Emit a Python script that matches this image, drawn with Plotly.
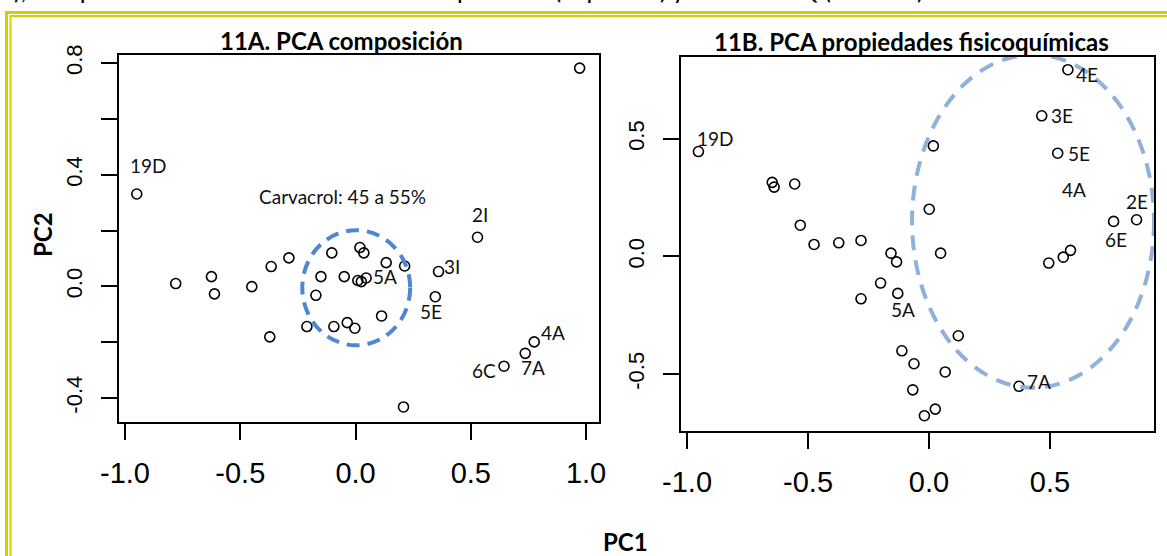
import plotly.graph_objects as go

W, H = 1167, 556

# ---------------- data: 11A PCA composición ----------------
a_pc1 = [-0.949, -0.780, -0.625, -0.612, -0.450, -0.366, -0.289, -0.372, -0.211, -0.150,
         -0.172, -0.103, -0.094, -0.049, -0.036, -0.003, 0.019, 0.036, 0.010, 0.025,
         0.046, 0.133, 0.113, 0.213, 0.360, 0.346, 0.529, 0.775, 0.736, 0.644,
         0.208, 0.972]
a_pc2 = [0.331, 0.010, 0.035, -0.027, -0.001, 0.071, 0.102, -0.181, -0.144, 0.035,
         -0.032, 0.120, -0.144, 0.035, -0.130, -0.150, 0.139, 0.120, 0.021, 0.017,
         0.030, 0.085, -0.106, 0.073, 0.053, -0.037, 0.176, -0.199, -0.240, -0.286,
         -0.432, 0.782]
a_lab = ["19D", "", "", "", "", "", "", "", "", "",
         "", "", "", "", "", "", "", "", "", "",
         "5A", "", "", "", "3I", "5E", "2I", "4A", "7A", "6C",
         "", ""]

# ---------------- data: 11B PCA propiedades fisicoquímicas ----------------
b_pc1 = [-0.953, -0.648, -0.640, -0.555, -0.532, -0.475, -0.373, -0.281, -0.157, -0.134,
         -0.200, -0.281, -0.129, 0.018, 0.001, 0.048, -0.112, -0.062, 0.067, -0.067,
         0.026, -0.019, 0.121, 0.574, 0.466, 0.532, 0.858, 0.763, 0.585, 0.555,
         0.495, 0.372]
b_pc2 = [0.446, 0.315, 0.295, 0.308, 0.133, 0.051, 0.058, 0.068, 0.014, -0.023,
         -0.113, -0.180, -0.157, 0.470, 0.201, 0.014, -0.401, -0.456, -0.491, -0.567,
         -0.649, -0.677, -0.337, 0.794, 0.598, 0.439, 0.156, 0.149, 0.026, -0.003,
         -0.028, -0.552]
b_lab = ["19D", "", "", "", "", "", "", "", "", "",
         "", "", "5A", "", "", "", "", "", "", "",
         "", "", "", "4E", "3E", "5E", "2E", "6E", "4A", "",
         "", "7A"]

# tick labels
a_xticks = [-1.0, -0.5, 0.0, 0.5, 1.0]
a_xtext = ["-1.0", "-0.5", "0.0", "0.5", "1.0"]
a_yticks = [-0.4, -0.2, 0.0, 0.2, 0.4, 0.6, 0.8]
a_ytext = ["-0.4", "", "0.0", "", "0.4", "", "0.8"]
b_xticks = [-1.0, -0.5, 0.0, 0.5]
b_xtext = ["-1.0", "-0.5", "0.0", "0.5"]
b_yticks = [-0.5, 0.0, 0.5]
b_ytext = ["-0.5", "0.0", "0.5"]

# highlighted regions (center x, center y, radius x, radius y) in PC units
a_region = (0.003, -0.005, 0.234, 0.206)
b_region = (0.43, 0.15, 0.50, 0.708)

# ---------------- layout (pixels) ----------------
A_BOX = (119, 599, 55, 422)   # left, right, top, bottom
B_BOX = (681, 1154, 57, 431)
A_XR = [-1.026, 1.056]
A_YR = [-0.486, 0.829]
B_XR = [-1.025, 0.930]
B_YR = [-0.742, 0.848]

# label offsets in pixels (dx, dy up)
a_off = {"19D": (12, 28), "5A": (19, 1), "3I": (13, 5), "5E": (-4, -15), "2I": (2, 23),
         "4A": (19, 9), "7A": (8, -14), "6C": (-20, -4)}
b_off = {"19D": (17, 13), "5A": (5, -16), "4E": (19, -5), "3E": (20, 0), "5E": (21, 0),
         "2E": (0, 18), "6E": (2, -18), "4A": (3, 61), "7A": (20, 5)}


def dom_x(box):
    return [box[0] / W, box[1] / W]


def dom_y(box):
    return [1 - box[3] / H, 1 - box[2] / H]


fig = go.Figure()
marker = dict(symbol="circle-open", size=10, color="black", line=dict(width=1.6))
fig.add_trace(go.Scatter(x=a_pc1, y=a_pc2, mode="markers", marker=marker,
                         xaxis="x", yaxis="y", showlegend=False, hoverinfo="skip"))
fig.add_trace(go.Scatter(x=b_pc1, y=b_pc2, mode="markers", marker=marker,
                         xaxis="x2", yaxis="y2", showlegend=False, hoverinfo="skip"))

tickfont_x = dict(family="Liberation Sans, Arial", size=29, color="black")
tickfont_y = dict(family="Liberation Sans, Arial", size=22, color="black")
axcommon = dict(showline=True, mirror=True, linecolor="black", linewidth=1.5,
                ticks="outside", ticklen=16, tickwidth=1.5, tickcolor="black",
                showgrid=False, zeroline=False, fixedrange=True, automargin=False)

fig.update_layout(
    width=W, height=H, autosize=False,
    margin=dict(l=0, r=0, t=0, b=0, pad=0),
    paper_bgcolor="white", plot_bgcolor="white",
    xaxis=dict(domain=dom_x(A_BOX), range=A_XR, tickvals=a_xticks, ticktext=a_xtext,
               tickfont=tickfont_x, ticklabelstandoff=8, anchor="y", **axcommon),
    yaxis=dict(domain=dom_y(A_BOX), range=A_YR, tickvals=a_yticks, ticktext=a_ytext,
               tickfont=tickfont_y, tickangle=-90, ticklabelstandoff=10, anchor="x", **axcommon),
    xaxis2=dict(domain=dom_x(B_BOX), range=B_XR, tickvals=b_xticks, ticktext=b_xtext,
                tickfont=tickfont_x, ticklabelstandoff=8, anchor="y2", **axcommon),
    yaxis2=dict(domain=dom_y(B_BOX), range=B_YR, tickvals=b_yticks, ticktext=b_ytext,
                tickfont=tickfont_y, tickangle=-90, ticklabelstandoff=10, anchor="x2", **axcommon),
)

# dashed ellipses
for reg, xr, yr, col, dash in [(a_region, "x", "y", "#4F86D2", "13px,8px"),
                               (b_region, "x2", "y2", "#8FB1DB", "15px,10px")]:
    cx, cy, rx, ry = reg
    fig.add_shape(type="circle", xref=xr, yref=yr, x0=cx - rx, x1=cx + rx,
                  y0=cy - ry, y1=cy + ry, line=dict(color=col, width=4, dash=dash),
                  layer="above")

lab_font = dict(family="Lato, Open Sans", size=19, color="#111")
for xs, ys, labs, offs, xr, yr in [(a_pc1, a_pc2, a_lab, a_off, "x", "y"),
                                   (b_pc1, b_pc2, b_lab, b_off, "x2", "y2")]:
    for x, y, t in zip(xs, ys, labs):
        if not t:
            continue
        dx, dy = offs[t]
        fig.add_annotation(x=x, y=y, xref=xr, yref=yr, text=t, showarrow=False,
                           xshift=dx, yshift=dy, font=lab_font,
                           xanchor="center", yanchor="middle")

fig.add_annotation(x=-0.056, y=0.321, xref="x", yref="y", text="Carvacrol: 45 a 55%",
                   showarrow=False, font=lab_font, xanchor="center", yanchor="middle")

# titles and axis titles
title_font = dict(family="Lato, Open Sans", size=24, color="black")
fig.add_annotation(x=341 / W, y=1 - 40 / H, xref="paper", yref="paper",
                   text="<b>11A. PCA composición</b>", showarrow=False, font=title_font,
                   xanchor="center", yanchor="middle")
fig.add_annotation(x=912 / W, y=1 - 42 / H, xref="paper", yref="paper",
                   text="<b>11B. PCA propiedades fisicoquímicas</b>", showarrow=False,
                   font=title_font, xanchor="center", yanchor="middle")
fig.add_annotation(x=42 / W, y=1 - 235 / H, xref="paper", yref="paper",
                   text="<b>PC2</b>", showarrow=False, font=title_font, textangle=-90,
                   xanchor="center", yanchor="middle")
fig.add_annotation(x=625 / W, y=1 - 541 / H, xref="paper", yref="paper",
                   text="<b>PC1</b>", showarrow=False, font=title_font,
                   xanchor="center", yanchor="middle")

# cut-off text line of the surrounding document (only its lower part shows)
fig.add_annotation(x=0, y=1 + 11 / H, xref="paper", yref="paper",
                   text="a),esto permite observar el PCA de la composición (izquierda) y en el de FQ (derecha)",
                   showarrow=False, xanchor="left", yanchor="middle",
                   font=dict(family="Lato, Open Sans", size=25, color="black"))

# yellow double frame of the document
ycol = "#D3CF00"
fig.add_shape(type="line", xref="paper", yref="paper", x0=6.5 / W, x1=6.5 / W,
              y0=0, y1=1 - 11 / H, line=dict(color=ycol, width=3))
fig.add_shape(type="line", xref="paper", yref="paper", x0=5 / W, x1=1,
              y0=1 - 12.5 / H, y1=1 - 12.5 / H, line=dict(color=ycol, width=3))
fig.add_shape(type="line", xref="paper", yref="paper", x0=10.5 / W, x1=10.5 / W,
              y0=0, y1=1 - 15 / H, line=dict(color=ycol, width=2))
fig.add_shape(type="line", xref="paper", yref="paper", x0=10 / W, x1=1,
              y0=1 - 16 / H, y1=1 - 16 / H, line=dict(color=ycol, width=2))

fig.write_html("out.html")
